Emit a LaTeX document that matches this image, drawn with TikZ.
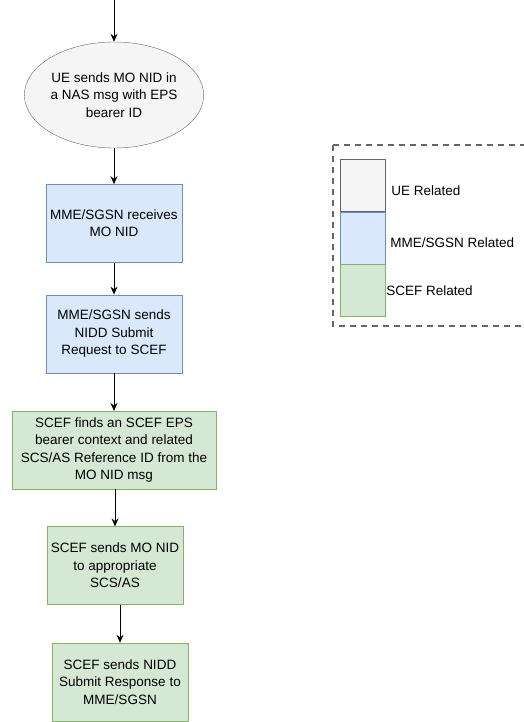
\documentclass[tikz,border=0pt]{standalone}
\usepackage{fontspec}
\setmainfont{Liberation Sans}
\usepackage{xcolor}
\usetikzlibrary{arrows.meta,positioning,shapes.geometric}

\definecolor{uefill}{HTML}{F5F5F5}
\definecolor{uedraw}{HTML}{666666}
\definecolor{mmefill}{HTML}{DAE8FC}
\definecolor{mmedraw}{HTML}{6C8EBF}
\definecolor{sceffill}{HTML}{D5E8D4}
\definecolor{scefdraw}{HTML}{82B366}

\begin{document}
\begin{tikzpicture}[
  x=1pt,y=1pt,
  font=\fontsize{13.5}{17.5}\selectfont,
  uenode/.style={draw=uedraw,fill=uefill,ellipse,minimum width=147pt,
              minimum height=106pt,inner sep=0pt,align=center},
  mmebox/.style={draw=mmedraw,fill=mmefill,minimum width=136pt,
              minimum height=78pt,inner sep=0pt,align=center},
  scefbox/.style={draw=scefdraw,fill=sceffill,minimum width=136pt,
              minimum height=78pt,inner sep=0pt,align=center},
  swatch/.style={minimum width=45pt,minimum height=52pt,inner sep=0pt},
  keytext/.style={inner sep=0pt,anchor=west},
  arr/.style={-{Stealth[length=8pt,width=7pt]},line width=1pt}
]
\useasboundingbox (0,0) rectangle (524,-722);

\coordinate (start) at (114,0);
\node[uenode] (ue) at (114,-95) {UE sends MO NID in\\a NAS msg with EPS\\bearer ID};
\node[mmebox,below=36pt of ue] (recv) {MME/SGSN receives\\MO NID};
\node[mmebox,below=32pt of recv] (req) {MME/SGSN sends\\NIDD Submit\\Request to SCEF};
\node[scefbox,below=38pt of req,minimum width=204pt] (find)
  {SCEF finds an SCEF EPS\\bearer context and related\\SCS/AS Reference ID from the\\MO NID msg};
\node[scefbox,below=37pt of find,xshift=1pt] (fwd) {SCEF sends MO NID\\to appropriate\\SCS/AS};
\node[scefbox,below=38pt of fwd,xshift=5pt] (resp) {SCEF sends NIDD\\Submit Response to\\MME/SGSN};

\draw[arr] (start) -- (ue);
\draw[arr] (ue) -- (recv);
\draw[arr] (recv) -- (req);
\draw[arr] (req) -- (find);
\draw[arr] (find.south -| fwd.north) -- (fwd.north);
\draw[arr] (fwd.south -| resp.north) -- (resp.north);

% legend
\draw[uedraw,line width=1.5pt,dash pattern=on 6pt off 5pt] (333,-145) rectangle (540,-326);
\node[swatch,draw=uedraw,fill=uefill] (kue) at (362.5,-185.5) {};
\node[swatch,draw=mmedraw,fill=mmefill,below=0pt of kue] (kmme) {};
\node[swatch,draw=scefdraw,fill=sceffill,below=0pt of kmme] (kscef) {};
\node[keytext,right=6pt of kue,yshift=-5pt] (tue) {UE Related};
\node[keytext,right=5pt of kmme,yshift=-5pt] (tmme) {MME/SGSN Related};
\node[keytext,right=1pt of kscef] (tscef) {SCEF Related};
\end{tikzpicture}
\end{document}
